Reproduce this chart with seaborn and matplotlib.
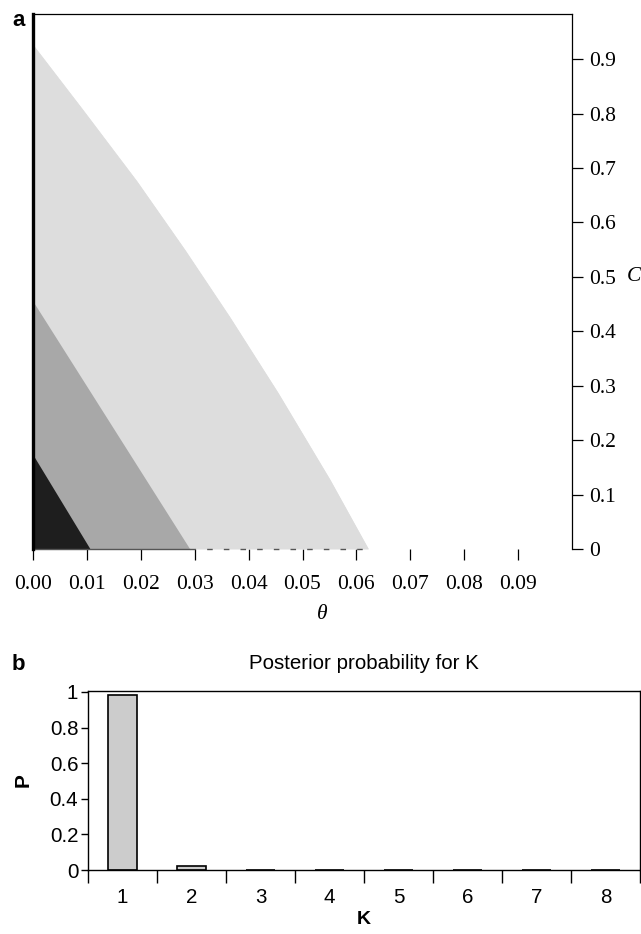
import numpy as np
import pandas as pd
import matplotlib
matplotlib.use("Agg")
import matplotlib.pyplot as plt
import seaborn as sns

# ---------------- data ----------------
# panel a: region boundaries (theta, C)
theta_light = [0.0, 0.0093, 0.0193, 0.0282, 0.0365, 0.0455, 0.0551, 0.0622]
C_light = [0.926, 0.806, 0.675, 0.549, 0.426, 0.286, 0.127, 0.0]
theta_mid = [0.0, 0.0291]
C_mid = [0.455, 0.0]
theta_black = [0.0, 0.0106]
C_black = [0.173, 0.0]
x_ticks_a = [0.00, 0.01, 0.02, 0.03, 0.04, 0.05, 0.06, 0.07, 0.08, 0.09]
x_ticklabels_a = ["0.00", "0.01", "0.02", "0.03", "0.04", "0.05", "0.06", "0.07", "0.08", "0.09"]
y_ticks_a = [0, 0.1, 0.2, 0.3, 0.4, 0.5, 0.6, 0.7, 0.8, 0.9]
y_ticklabels_a = ["0", "0.1", "0.2", "0.3", "0.4", "0.5", "0.6", "0.7", "0.8", "0.9"]

# panel b: posterior probability for K
K_labels = ["1", "2", "3", "4", "5", "6", "7", "8"]
P_values = [0.981, 0.022, 0.0, 0.0, 0.0, 0.0, 0.0, 0.0]
y_ticks_b = [0, 0.2, 0.4, 0.6, 0.8, 1.0]
y_ticklabels_b = ["0", "0.2", "0.4", "0.6", "0.8", "1"]

# ---------------- style ----------------
sns.set_theme(style="white")
plt.rcParams["font.family"] = ["Liberation Sans", "DejaVu Sans"]
plt.rcParams["axes.edgecolor"] = "black"
plt.rcParams["text.color"] = "black"
plt.rcParams["axes.labelcolor"] = "black"
plt.rcParams["xtick.color"] = "black"
plt.rcParams["ytick.color"] = "black"

W, H = 641, 934
fig = plt.figure(figsize=(W / 100, H / 100), dpi=100)

def fig_rect(l, t, r, b):
    return [l / W, 1 - b / H, (r - l) / W, (b - t) / H]

serif = ["Liberation Serif", "DejaVu Serif"]
fs_a = 15.5

# ---------------- panel a ----------------
ax = fig.add_axes(fig_rect(33, 14, 572, 549))
ax.fill_between(theta_light, C_light, 0, color="#dddddd", linewidth=0)
ax.fill_between(theta_mid, C_mid, 0, color="#a8a8a8", linewidth=0)
ax.fill_between(theta_black, C_black, 0, color="#1e1e1e", linewidth=0)
sns.lineplot(x=theta_light, y=C_light, ax=ax, color="#dddddd", linewidth=0.6, sort=False)

# baseline below the regions
ax.plot([0, theta_mid[-1]], [0, 0], color="#555555", linewidth=1.0, clip_on=False)
ax.plot([theta_mid[-1], theta_light[-1]], [0, 0], color="#555555", linewidth=1.0,
        linestyle=(0, (4, 8)), clip_on=False)

ax.set_xlim(0, 0.1)
ax.set_ylim(0, 0.983)

ax.spines["left"].set_linewidth(2.4)
ax.spines["top"].set_linewidth(0.9)
ax.spines["right"].set_linewidth(0.9)
ax.spines["bottom"].set_visible(False)

ax.yaxis.tick_right()
ax.set_yticks(y_ticks_a)
ax.set_yticklabels(y_ticklabels_a, fontfamily=serif, fontsize=fs_a)
ax.set_xticks(x_ticks_a)
ax.set_xticklabels(x_ticklabels_a, fontfamily=serif, fontsize=fs_a)
ax.tick_params(axis="x", direction="out", length=8, width=0.9, pad=11, bottom=True)
ax.tick_params(axis="y", direction="out", length=8, width=0.9, pad=4,
               right=True, left=False)

ax.yaxis.set_label_position("right")
ax.set_ylabel("C", fontfamily=serif, fontstyle="italic", fontsize=fs_a, rotation=0,
              va="center", ha="left")
ax.yaxis.set_label_coords(1.101, 0.5 / 0.983)
ax.set_xlabel("θ", fontfamily=serif, fontstyle="italic", fontsize=fs_a)
ax.xaxis.set_label_coords(0.536, -0.105)

fig.text(12 / W, 1 - 20 / H, "a", fontsize=16, fontweight="bold", ha="left", va="center")

# ---------------- panel b ----------------
fs_b = 14.8
axb = fig.add_axes(fig_rect(88, 691, 640, 870))
df = pd.DataFrame({"K": K_labels, "P": P_values})
sns.barplot(data=df, x="K", y="P", color="#cccccc", saturation=1, edgecolor="black",
            linewidth=1.2, width=0.42, ax=axb)
axb.set_xlim(-0.5, len(K_labels) - 0.5)
axb.set_ylim(0, 1.005)
for s in axb.spines.values():
    s.set_visible(True)
    s.set_linewidth(1.0)
    s.set_color("black")

axb.set_yticks(y_ticks_b)
axb.set_yticklabels(y_ticklabels_b, fontsize=fs_b)
axb.tick_params(axis="y", direction="out", length=5, width=1, left=True, pad=2)
axb.set_xticks(np.arange(len(K_labels)))
axb.set_xticklabels(K_labels, fontsize=fs_b)
axb.set_xticks(np.arange(len(K_labels) + 1) - 0.5, minor=True)
axb.tick_params(axis="x", which="major", length=0, pad=13)
axb.tick_params(axis="x", which="minor", direction="out", length=9, width=1, bottom=True)
axb.set_xlabel("K", fontsize=14, fontweight="bold", labelpad=3)
axb.set_ylabel("P", fontsize=15, fontweight="bold", labelpad=12)
axb.set_title("Posterior probability for K", fontsize=fs_b, pad=16)

fig.text(12 / W, 1 - 665 / H, "b", fontsize=16, fontweight="bold", ha="left", va="center")

fig.savefig("out.png", dpi=100)
